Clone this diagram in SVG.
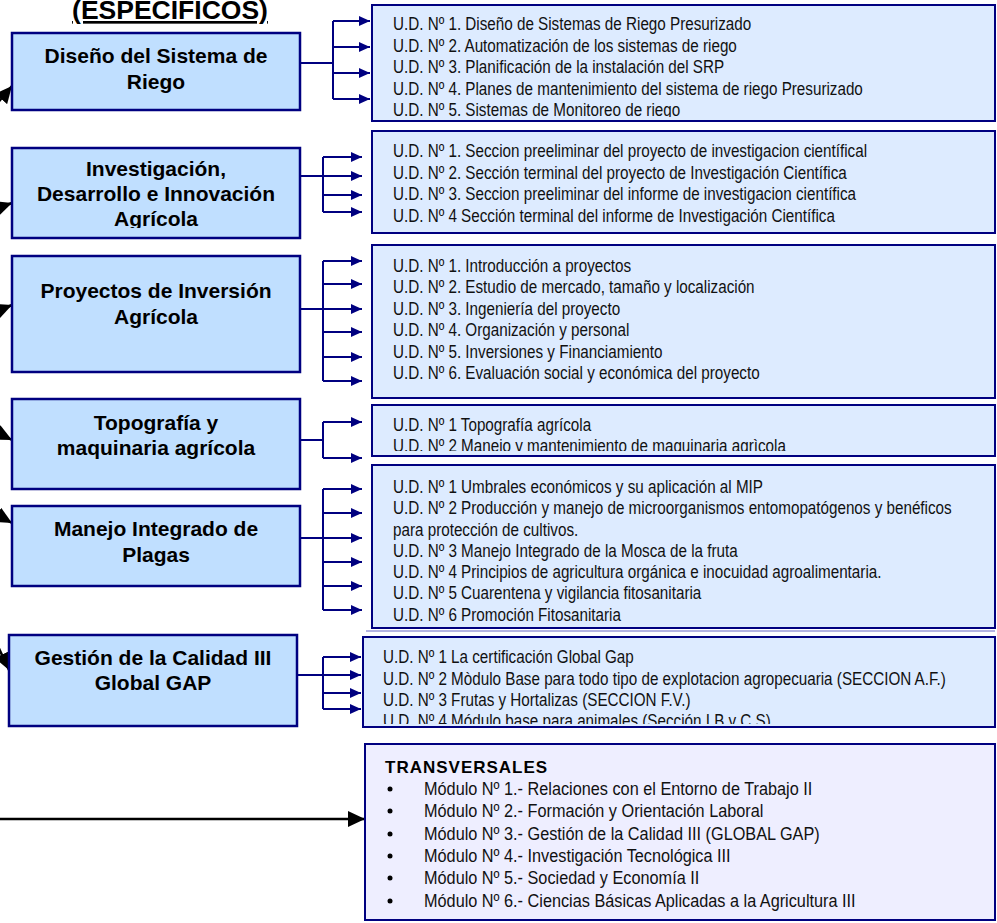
<svg xmlns="http://www.w3.org/2000/svg" width="997" height="923" viewBox="0 0 997 923">
<style>
.lb{fill:#C0DFFF;stroke:#000080;stroke-width:2.5}
.rb{fill:#DDEBFF;stroke:#000080;stroke-width:2}
.tb{fill:#EEEEFF;stroke:#000080;stroke-width:2}
.lt{font-family:"Liberation Sans",Arial,sans-serif;font-weight:bold;font-size:21px;fill:#000;text-anchor:middle}
.rt{font-family:"Liberation Sans",Arial,sans-serif;font-size:17.5px;fill:#111}
.tt{font-family:"Liberation Sans",Arial,sans-serif;font-size:18.7px;fill:#111}
.hd{font-family:"Liberation Sans",Arial,sans-serif;font-weight:bold;font-size:26.5px;fill:#000;text-anchor:middle;text-decoration:underline}
.cn{fill:none;stroke:#000080;stroke-width:2}
.bk{fill:none;stroke:#000;stroke-width:2.5}
</style>
<defs>
<marker id="ab" markerUnits="userSpaceOnUse" markerWidth="12" markerHeight="10" refX="11" refY="5" orient="auto"><path d="M0,0 L11,5 L0,10 z" fill="#000080"/></marker>
<marker id="ak" markerUnits="userSpaceOnUse" markerWidth="18" markerHeight="16" refX="17" refY="8" orient="auto"><path d="M0,0 L17,8 L0,16 z" fill="#000"/></marker>
<clipPath id="c1"><rect x="372" y="5" width="623" height="112"/></clipPath>
<clipPath id="c2"><rect x="12" y="148" width="288" height="80"/></clipPath>
<clipPath id="c4"><rect x="372" y="405" width="623" height="46"/></clipPath>
<clipPath id="c5"><rect x="372" y="465" width="623" height="157"/></clipPath>
<clipPath id="c6"><rect x="363" y="637" width="632" height="87"/></clipPath>
</defs>

<text class="hd" x="170" y="19">(ESPECIFICOS)</text>

<g id="connectors">
<path class="cn" d="M297,63 H333 M333,21 V99"/>
<line class="cn" x1="333" y1="21" x2="370" y2="21" marker-end="url(#ab)"/>
<line class="cn" x1="333" y1="47" x2="370" y2="47" marker-end="url(#ab)"/>
<line class="cn" x1="333" y1="73" x2="370" y2="73" marker-end="url(#ab)"/>
<line class="cn" x1="333" y1="99" x2="370" y2="99" marker-end="url(#ab)"/>

<path class="cn" d="M300,176 H323 M323,157 V212"/>
<line class="cn" x1="323" y1="157" x2="362" y2="157" marker-end="url(#ab)"/>
<line class="cn" x1="323" y1="176" x2="362" y2="176" marker-end="url(#ab)"/>
<line class="cn" x1="323" y1="195" x2="362" y2="195" marker-end="url(#ab)"/>
<line class="cn" x1="323" y1="212" x2="362" y2="212" marker-end="url(#ab)"/>

<path class="cn" d="M300,309 H323 M323,261 V381"/>
<line class="cn" x1="323" y1="261" x2="362" y2="261" marker-end="url(#ab)"/>
<line class="cn" x1="323" y1="284" x2="362" y2="284" marker-end="url(#ab)"/>
<line class="cn" x1="323" y1="309" x2="362" y2="309" marker-end="url(#ab)"/>
<line class="cn" x1="323" y1="332" x2="362" y2="332" marker-end="url(#ab)"/>
<line class="cn" x1="323" y1="357" x2="362" y2="357" marker-end="url(#ab)"/>
<line class="cn" x1="323" y1="381" x2="362" y2="381" marker-end="url(#ab)"/>

<path class="cn" d="M300,440 H323 M323,422 V458"/>
<line class="cn" x1="323" y1="422" x2="362" y2="422" marker-end="url(#ab)"/>
<line class="cn" x1="323" y1="458" x2="362" y2="458" marker-end="url(#ab)"/>

<path class="cn" d="M300,538 H323 M323,489 V610"/>
<line class="cn" x1="323" y1="489" x2="362" y2="489" marker-end="url(#ab)"/>
<line class="cn" x1="323" y1="513" x2="362" y2="513" marker-end="url(#ab)"/>
<line class="cn" x1="323" y1="538" x2="362" y2="538" marker-end="url(#ab)"/>
<line class="cn" x1="323" y1="562" x2="362" y2="562" marker-end="url(#ab)"/>
<line class="cn" x1="323" y1="586" x2="362" y2="586" marker-end="url(#ab)"/>
<line class="cn" x1="323" y1="610" x2="362" y2="610" marker-end="url(#ab)"/>

<path class="cn" d="M297,675 H323 M323,657 V709"/>
<line class="cn" x1="323" y1="657" x2="361" y2="657" marker-end="url(#ab)"/>
<line class="cn" x1="323" y1="675" x2="361" y2="675" marker-end="url(#ab)"/>
<line class="cn" x1="323" y1="693" x2="361" y2="693" marker-end="url(#ab)"/>
<line class="cn" x1="323" y1="709" x2="361" y2="709" marker-end="url(#ab)"/>

<line class="bk" x1="-10" y1="112" x2="12" y2="86" marker-end="url(#ak)"/>
<line class="bk" x1="-20" y1="214" x2="12" y2="203" marker-end="url(#ak)"/>
<line class="bk" x1="-20" y1="318" x2="12" y2="305" marker-end="url(#ak)"/>
<line class="bk" x1="-20" y1="424" x2="12" y2="440" marker-end="url(#ak)"/>
<line class="bk" x1="-20" y1="505" x2="12" y2="523" marker-end="url(#ak)"/>
<line class="bk" x1="-5" y1="640" x2="9" y2="670" marker-end="url(#ak)"/>
<line class="bk" x1="0" y1="819" x2="365" y2="819" marker-end="url(#ak)"/>
</g>

<g id="n1">
<rect class="lb" x="12" y="33" width="288" height="77"/>
<text class="lt" x="156" y="63">Diseño del Sistema de</text>
<text class="lt" x="156" y="89">Riego</text>
</g>
<g id="n2">
<rect class="lb" x="12" y="148" width="288" height="90"/>
<g clip-path="url(#c2)">
<text class="lt" x="156" y="176">Investigación,</text>
<text class="lt" x="156" y="201">Desarrollo e Innovación</text>
<text class="lt" x="156" y="226">Agrícola</text>
</g>
</g>
<g id="n3">
<rect class="lb" x="12" y="256" width="288" height="116"/>
<text class="lt" x="156" y="298">Proyectos de Inversión</text>
<text class="lt" x="156" y="324">Agrícola</text>
</g>
<g id="n4">
<rect class="lb" x="12" y="399" width="288" height="90"/>
<text class="lt" x="156" y="430">Topografía y</text>
<text class="lt" x="156" y="455">maquinaria agrícola</text>
</g>
<g id="n5">
<rect class="lb" x="12" y="506" width="288" height="80"/>
<text class="lt" x="156" y="536">Manejo Integrado de</text>
<text class="lt" x="156" y="562">Plagas</text>
</g>
<g id="n6">
<rect class="lb" x="9" y="635" width="288" height="91"/>
<text class="lt" x="153" y="665">Gestión de la Calidad III</text>
<text class="lt" x="153" y="690">Global GAP</text>
</g>

<g id="r1">
<rect class="rb" x="372" y="5" width="623" height="116"/>
<g clip-path="url(#c1)"><g transform="translate(393 0) scale(0.87 1)">
<text class="rt" x="0" y="30">U.D. Nº 1. Diseño de Sistemas de Riego Presurizado</text>
<text class="rt" x="0" y="52">U.D. Nº 2. Automatización  de los sistemas de riego</text>
<text class="rt" x="0" y="73">U.D. Nº 3. Planificación de la instalación del SRP</text>
<text class="rt" x="0" y="95">U.D. Nº 4. Planes de mantenimiento del sistema de riego Presurizado</text>
<text class="rt" x="0" y="116">U.D. Nº 5. Sistemas de Monitoreo de riego</text>
</g></g>
</g>
<g id="r2">
<rect class="rb" x="372" y="131" width="623" height="102"/>
<g transform="translate(393 0) scale(0.87 1)">
<text class="rt" x="0" y="157">U.D. Nº 1. Seccion preeliminar del proyecto de investigacion científical</text>
<text class="rt" x="0" y="179">U.D. Nº 2. Sección terminal del proyecto de Investigación Científica</text>
<text class="rt" x="0" y="200">U.D. Nº 3. Seccion preeliminar del informe de investigacion científica</text>
<text class="rt" x="0" y="222">U.D. Nº 4 Sección terminal del informe de Investigación Científica</text>
</g>
</g>
<g id="r3">
<rect class="rb" x="372" y="245" width="623" height="153"/>
<g transform="translate(393 0) scale(0.87 1)">
<text class="rt" x="0" y="272">U.D. Nº 1. Introducción a proyectos</text>
<text class="rt" x="0" y="293">U.D. Nº 2. Estudio de mercado, tamaño y localización</text>
<text class="rt" x="0" y="315">U.D. Nº 3. Ingeniería del proyecto</text>
<text class="rt" x="0" y="336">U.D. Nº 4. Organización y personal</text>
<text class="rt" x="0" y="358">U.D. Nº 5. Inversiones y Financiamiento</text>
<text class="rt" x="0" y="379">U.D. Nº 6. Evaluación social y económica del proyecto</text>
</g>
</g>
<g id="r4">
<rect class="rb" x="372" y="405" width="623" height="51"/>
<g clip-path="url(#c4)"><g transform="translate(393 0) scale(0.87 1)">
<text class="rt" x="0" y="431">U.D. Nº 1 Topografía agrícola</text>
<text class="rt" x="0" y="452">U.D. Nº 2 Manejo y mantenimiento de maquinaria agrìcola</text>
</g></g>
</g>
<g id="r5">
<rect class="rb" x="372" y="465" width="623" height="163"/>
<g clip-path="url(#c5)"><g transform="translate(393 0) scale(0.87 1)">
<text class="rt" x="0" y="493">U.D. Nº 1  Umbrales económicos y su aplicación al MIP</text>
<text class="rt" x="0" y="514">U.D. Nº 2 Producción y manejo de microorganismos entomopatógenos y benéficos</text>
<text class="rt" x="0" y="536">para protección de cultivos.</text>
<text class="rt" x="0" y="557">U.D. Nº 3  Manejo Integrado de la Mosca de la fruta</text>
<text class="rt" x="0" y="578">U.D. Nº 4 Principios de agricultura orgánica e inocuidad agroalimentaria.</text>
<text class="rt" x="0" y="599">U.D. Nº 5  Cuarentena y vigilancia fitosanitaria</text>
<text class="rt" x="0" y="621">U.D. Nº 6  Promoción Fitosanitaria</text>
</g></g>
</g>
<line x1="366" y1="631" x2="995" y2="631" stroke="#9A9AD8" stroke-width="1.5"/>
<g id="r6">
<rect class="rb" x="363" y="637" width="632" height="90"/>
<g clip-path="url(#c6)"><g transform="translate(383 0) scale(0.87 1)">
<text class="rt" x="0" y="663">U.D. Nº 1  La certificación Global Gap</text>
<text class="rt" x="0" y="685">U.D. Nº 2 Mòdulo Base para todo tipo de explotacion agropecuaria (SECCION A.F.)</text>
<text class="rt" x="0" y="706">U.D. Nº 3 Frutas y Hortalizas (SECCION F.V.)</text>
<text class="rt" x="0" y="727">U.D. Nº 4 Módulo base para animales (Sección I.B y C.S)</text>
</g></g>
</g>
<g id="r7">
<rect class="tb" x="365" y="744" width="630" height="176"/>
<text x="385" y="773" font-family="Liberation Sans,Arial,sans-serif" font-weight="bold" font-size="17" letter-spacing="1" fill="#000">TRANSVERSALES</text>
<g fill="#000">
<circle cx="390" cy="789" r="2.5"/><circle cx="390" cy="811" r="2.5"/><circle cx="390" cy="834" r="2.5"/>
<circle cx="390" cy="856" r="2.5"/><circle cx="390" cy="878" r="2.5"/><circle cx="390" cy="901" r="2.5"/>
</g>
<g transform="translate(424 0) scale(0.87 1)">
<text class="tt" x="0" y="795">Módulo Nº 1.- Relaciones con el Entorno de Trabajo II</text>
<text class="tt" x="0" y="817">Módulo Nº 2.- Formación y Orientación Laboral</text>
<text class="tt" x="0" y="840">Módulo Nº 3.- Gestión de la Calidad III (GLOBAL GAP)</text>
<text class="tt" x="0" y="862">Módulo Nº 4.- Investigación Tecnológica III</text>
<text class="tt" x="0" y="884">Módulo Nº 5.- Sociedad y Economía II</text>
<text class="tt" x="0" y="907">Módulo Nº 6.- Ciencias Básicas Aplicadas a la Agricultura III</text>
</g>
</g>
</svg>
